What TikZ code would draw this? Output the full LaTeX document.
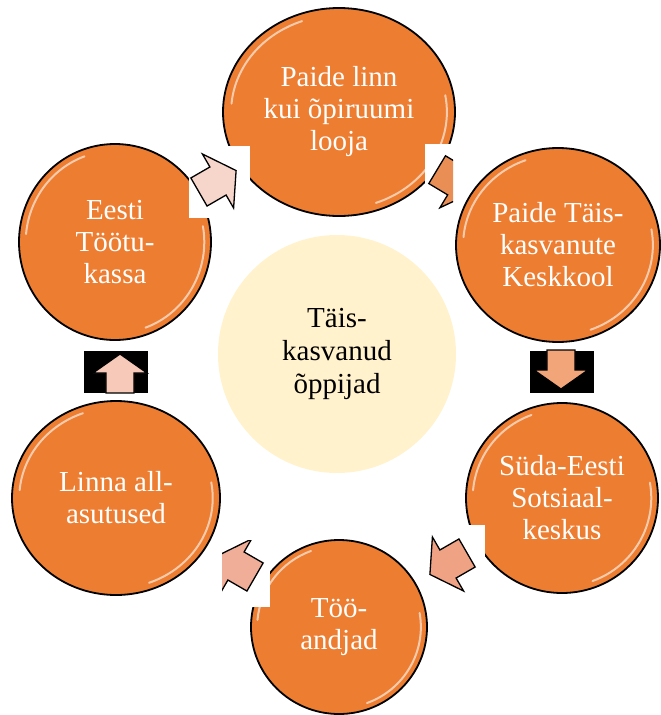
\documentclass[tikz,border=0pt]{standalone}
\usepackage{fontspec}
\setmainfont{Liberation Serif}
\usetikzlibrary{shapes.geometric}

\definecolor{orangeBulle}{HTML}{ED7D31}
\definecolor{creme}{HTML}{FFF2CC}

\tikzset{
    bulle/.style={ellipse, draw=black, line width=1.8pt, fill=orangeBulle, text=white,
        align=center, inner sep=0pt, font=\fontsize{29}{32}\selectfont},
    coeur/.style={circle, fill=creme, text=black, align=center, inner sep=0pt,
        minimum size=238pt, font=\fontsize{29}{33}\selectfont},
    reflet/.style={white, opacity=0.6, line width=2pt, line cap=round},
    fleche/.style={draw=black, line width=1.3pt, line join=miter},
}

% Flèche pleine : [options]{base de la pointe}{angle}
\newcommand{\fleche}[3][]{%
    \draw[fleche, shift={#2}, rotate=#3, #1] (-20,-13.5) -- (0,-13.5) -- (0,-26) -- (19,0)
        -- (0,26) -- (0,13.5) -- (-20,13.5) -- cycle;}

\begin{document}
\begin{tikzpicture}[x=1pt, y=-1pt]
    \useasboundingbox (0,0) rectangle (661,715);
    % Bulles oranges du cycle
    \foreach \nom/\cx/\cy/\rx/\ry/\texte in {
        haut/339/112/116/104/Paide linn\\kui õpiruumi\\looja,
        droite1/558/245/102/97/Paide Täis-\\kasvanute\\Keskkool,
        droite2/562/498/96/95/Süda-Eesti\\Sotsiaal-\\keskus,
        bas/339/627/88/87/Töö-\\andjad,
        gauche2/116/498/104/97/Linna all-\\asutused,
        gauche1/115/242/96/98/Eesti\\Töötu-\\kassa} {
        \node[bulle, minimum width=2*\rx*1pt, minimum height=2*\ry*1pt] (\nom) at (\cx,\cy) {\texte};
        % reflets sur le bord
        \draw[reflet] (\cx,\cy) ++(-110:{0.93*\rx} and {0.93*\ry})
            arc[start angle=-110, end angle=-175, x radius=0.93*\rx, y radius=0.93*\ry];
        \draw[reflet] (\cx,\cy) ++(70:{0.93*\rx} and {0.93*\ry})
            arc[start angle=70, end angle=-10, x radius=0.93*\rx, y radius=0.93*\ry];
    }
    % Bulle centrale
    \node[coeur] (centre) at (337,354) {Täis-\\kasvanud\\õppijad};

    % Fonds des flèches
    \fill[white] (189,146) rectangle (250,218);
    \fill[white] (425,144) rectangle (453,210);
    \fill[white] (425,525) rectangle (485,600);
    \fill[white] (222,540) rectangle (270,607);
    \fill[black] (530,351) rectangle (594,393);
    \fill[black] (84,351) rectangle (148,393);

    % Flèches entre les bulles
    \begin{scope}
        \clip (425,144) rectangle (453,210);
        \fleche[fill={rgb,255:red,233;green,142;blue,85}, xscale=1.1, yscale=1.2]{(456,181)}{-31}
    \end{scope}
    \fleche[fill={rgb,255:red,243;green,165;blue,122}, yscale=1.04]{(561,370)}{-90}
    \fleche[fill={rgb,255:red,239;green,162;blue,132}, xscale=1.1, yscale=1.2]{(448,564)}{210}
    \begin{scope}
        \clip (222,540) rectangle (270,607);
        \fleche[fill={rgb,255:red,240;green,174;blue,152}, xscale=1.1, yscale=1.2]{(236,566)}{150}
    \end{scope}
    \fleche[fill={rgb,255:red,247;green,201;blue,184}, yscale=1.04]{(120,373)}{90}
    \fleche[fill={rgb,255:red,246;green,213;blue,203}, xscale=1.1, yscale=1.2]{(218,181)}{30}
\end{tikzpicture}
\end{document}
